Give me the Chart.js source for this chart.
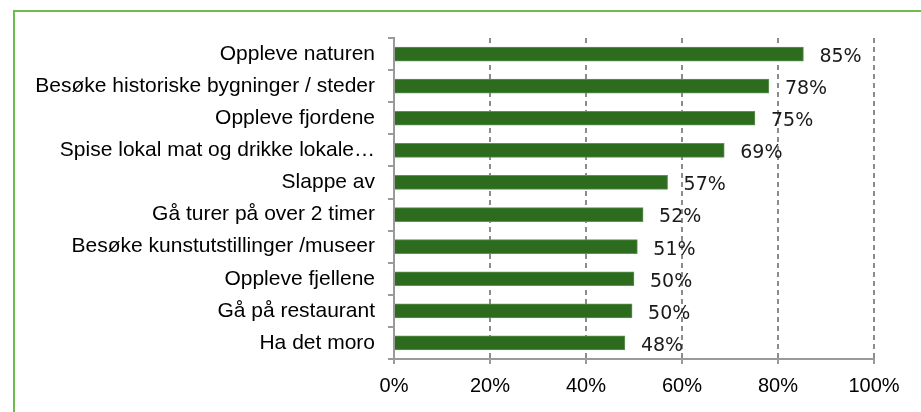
<!DOCTYPE html>
<html>
<head>
<meta charset="utf-8">
<script src="https://cdn.jsdelivr.net/npm/chart.js@4/dist/chart.umd.min.js"></script>
<style>
  html, body { margin: 0; padding: 0; background: #fff; overflow: hidden; }
  #wrap { position: relative; width: 921px; height: 412px; }
  #frame { position: absolute; left: 13px; top: 10px; width: 1000px; height: 500px; border: 2px solid #6cbd4e; }
  #c { position: absolute; left: 0; top: 0; }
</style>
</head>
<body>
<div id="wrap">
  <div id="frame"></div>
  <canvas id="c" width="921" height="412"></canvas>
</div>
<script>
const categories = [
  'Oppleve naturen',
  'Besøke historiske bygninger / steder',
  'Oppleve fjordene',
  'Spise lokal mat og drikke lokale…',
  'Slappe av',
  'Gå turer på over 2 timer',
  'Besøke kunstutstillinger /museer',
  'Oppleve fjellene',
  'Gå på restaurant',
  'Ha det moro'
];
const shares = [85.3, 78.1, 75.2, 68.8, 57.0, 51.9, 50.7, 50.0, 49.6, 48.1];
const xTicks = [0, 20, 40, 60, 80, 100];

const GRID_GREY = '#8c8c8c';
const AXIS_GREY = '#9a9a9a';

// percent labels right of each bar end, sitting a little low like the original
const barLabels = {
  id: 'barLabels',
  afterDatasetsDraw(chart) {
    const ctx = chart.ctx;
    const meta = chart.getDatasetMeta(0);
    ctx.save();
    ctx.font = '19px "DejaVu Sans"';
    ctx.fillStyle = '#1a1a1a';
    ctx.textAlign = 'left';
    ctx.textBaseline = 'middle';
    meta.data.forEach((bar, i) => {
      ctx.fillText(Math.round(shares[i]) + '%', bar.x + 16, bar.y + 3);
    });
    ctx.restore();
  }
};

new Chart(document.getElementById('c').getContext('2d'), {
  type: 'bar',
  data: {
    labels: categories,
    datasets: [{
      data: shares,
      backgroundColor: '#2d6b1e',
      borderColor: '#5f9350',
      borderWidth: 1,
      borderSkipped: 'start',
      barThickness: 14
    }]
  },
  options: {
    indexAxis: 'y',
    responsive: false,
    animation: false,
    layout: { padding: { left: 0, right: 47, top: 38, bottom: 0 } },
    plugins: { legend: { display: false }, tooltip: { enabled: false } },
    scales: {
      x: {
        min: 0, max: 100,
        afterBuildTicks: (s) => { s.ticks = xTicks.map(v => ({ value: v })); },
        afterFit: (s) => { s.height = 53; },
        ticks: {
          color: '#000',
          font: { family: 'Liberation Sans', size: 20 },
          padding: 10,
          maxRotation: 0,
          callback: (v) => v + '%'
        },
        grid: {
          color: (c) => c.tick && c.tick.value === 0 ? 'rgba(0,0,0,0)' : GRID_GREY,
          lineWidth: 2,
          tickColor: AXIS_GREY,
          tickLength: 5,
          tickWidth: 2,
          tickBorderDash: []
        },
        border: { color: AXIS_GREY, width: 2, dash: [5, 4] }
      },
      y: {
        afterFit: (s) => { s.width = 394; },
        ticks: {
          color: '#000',
          font: { family: 'Liberation Sans', size: 21 },
          padding: 13,
          autoSkip: false
        },
        grid: {
          offset: true,
          drawOnChartArea: false,
          color: AXIS_GREY,
          tickLength: 6,
          lineWidth: 2
        },
        border: { color: AXIS_GREY, width: 2 }
      }
    }
  },
  plugins: [barLabels]
});
</script>
</body>
</html>
